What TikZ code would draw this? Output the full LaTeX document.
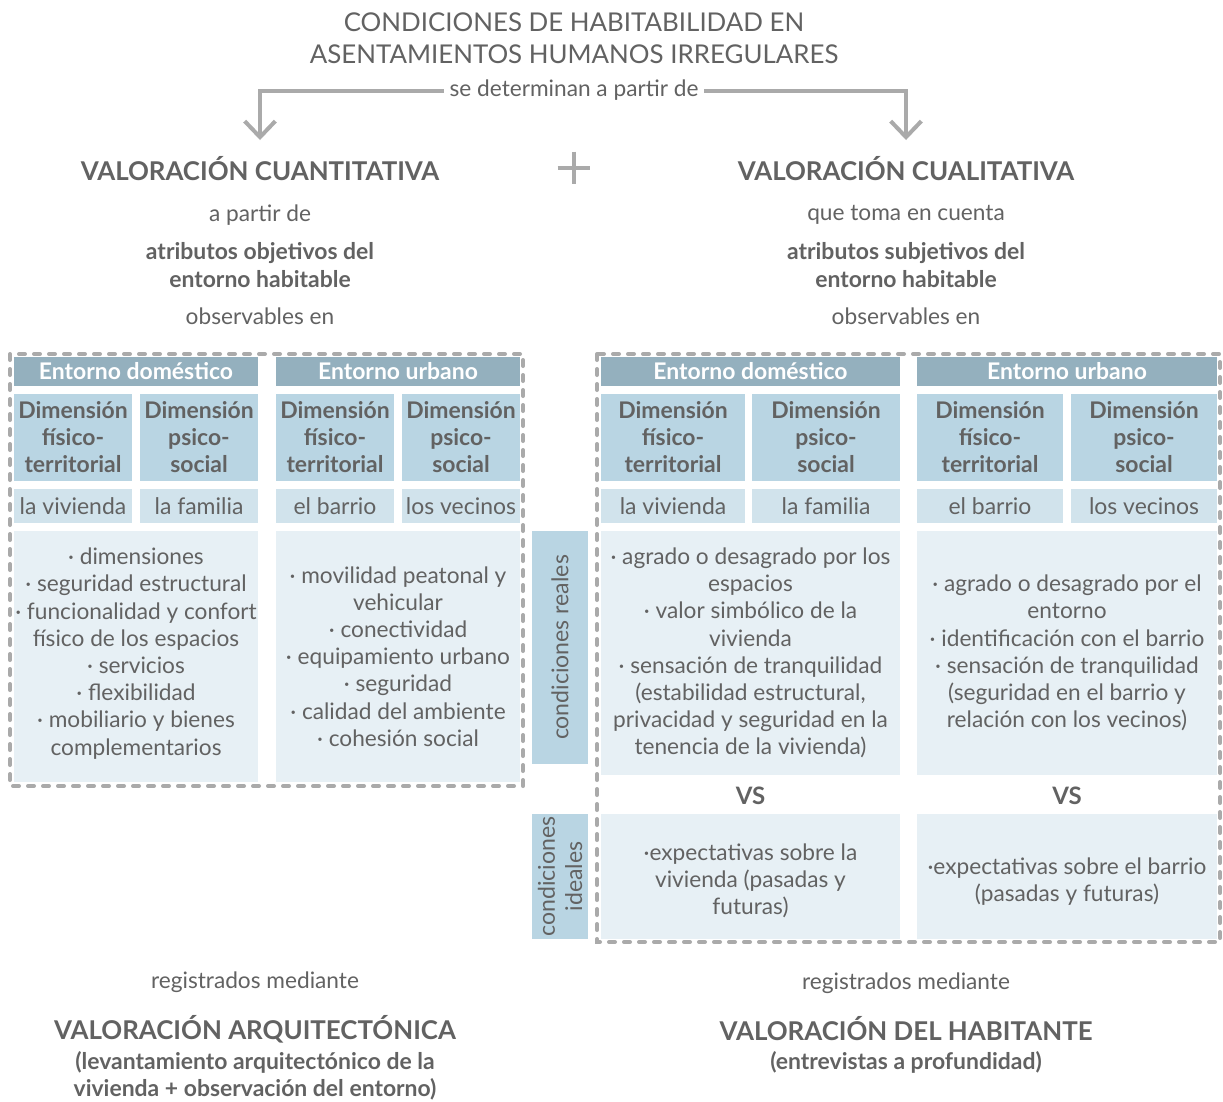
\documentclass[tikz,border=0pt]{standalone}
\usepackage{fontspec}
\setmainfont{Lato}
\usetikzlibrary{arrows.meta}
\definecolor{hdrc}{RGB}{148,176,190}
\definecolor{dimc}{RGB}{185,213,227}
\definecolor{rowc}{RGB}{209,227,236}
\definecolor{cntc}{RGB}{231,240,245}
\definecolor{txtc}{RGB}{98,98,98}
\definecolor{lnc}{RGB}{170,170,170}
\begin{document}
\begin{tikzpicture}[x=0.75pt,y=-0.75pt,
  sz/.style 2 args={minimum width=#1*0.75pt, minimum height=#2*0.75pt},
  cell/.style={inner sep=0pt, align=center, text=txtc},
  hdr/.style={cell, fill=hdrc, text=white, font=\bfseries\fontsize{17.2}{20}\selectfont},
  dimbox/.style={cell, fill=dimc, font=\bfseries\fontsize{17.2}{20.25}\selectfont},
  rowbox/.style={cell, fill=rowc, font=\fontsize{17.2}{20}\selectfont},
  cnt/.style={cell, fill=cntc, font=\fontsize{17}{20.4}\selectfont},
  cnttxt/.style={cell, font=\fontsize{17}{20.4}\selectfont},
  side/.style={cell, fill=dimc, rotate=90, font=\fontsize{17.3}{20.4}\selectfont},
  frame/.style={draw=lnc, line width=3pt, dash pattern=on 4.5pt off 6.75pt, line cap=round},
  arr/.style={draw=lnc, line width=3pt, -{Straight Barb[length=12pt,width=23pt]}},
  lbl/.style={text=txtc, align=center, inner sep=4pt, font=\fontsize{17}{20.25}\selectfont},
  ttl/.style={lbl, font=\bfseries\fontsize{19.4}{22}\selectfont},
  sub/.style={lbl, font=\bfseries\fontsize{17.2}{21}\selectfont},
  big/.style={lbl, font=\fontsize{19.4}{24}\selectfont},
  vs/.style={lbl, font=\bfseries\fontsize{18}{20}\selectfont},
]
\fill[white] (0,0) rectangle (1223,1101);
\useasboundingbox (0,0) rectangle (1223,1101);

% top
\node[big] (title) at (574,38) {CONDICIONES DE HABITABILIDAD EN\\ASENTAMIENTOS HUMANOS IRREGULARES};
\node[lbl] (det) at (574,90.5) {se determinan a partir de};
\coordinate (tipL) at (260,140);
\coordinate (tipR) at (906,140);
\draw[arr] (det.west) -| (tipL);
\draw[arr] (det.east) -| (tipR);

\node[ttl] (cuant) at (260,169) {VALORACIÓN CUANTITATIVA};
\node[ttl] (cual) at (906,169) {VALORACIÓN CUALITATIVA};
\node[inner sep=0pt, minimum size=24pt] (plus) at (574,168) {};
\draw[lnc, line width=3pt] (plus.west) -- (plus.east) (plus.north) -- (plus.south);

\node[lbl] (apd) at (260,215) {a partir de};
\node[sub] (obj) at (260,265) {atributos objetivos del\\entorno habitable};
\node[lbl] (obsL) at (260,316) {observables en};
\node[lbl] (qtc) at (906,215) {que toma en cuenta};
\node[sub] (subj) at (906,265) {atributos subjetivos del\\entorno habitable};
\node[lbl] (obsR) at (906,316) {observables en};

% left frame
\draw[frame] (10,354) rectangle (523,786);
\node[hdr, sz={244}{29}] (hL1) at (136,371.5) {Entorno doméstico};
\node[hdr, sz={244}{29}] (hL2) at (398,371.5) {Entorno urbano};
\node[dimbox, sz={118}{87}] (dL1) at (73,437.5) {Dimensión\\físico-\\territorial};
\node[dimbox, sz={118}{87}] (dL2) at (199,437.5) {Dimensión\\psico-\\social};
\node[dimbox, sz={118}{87}] (dL3) at (335,437.5) {Dimensión\\físico-\\territorial};
\node[dimbox, sz={118}{87}] (dL4) at (461,437.5) {Dimensión\\psico-\\social};
\node[rowbox, sz={118}{34}] (rL1) at (73,506) {la vivienda};
\node[rowbox, sz={118}{34}] (rL2) at (199,506) {la familia};
\node[rowbox, sz={118}{34}] (rL3) at (335,506) {el barrio};
\node[rowbox, sz={118}{34}] (rL4) at (461,506) {los vecinos};
\node[cnt, sz={244}{251}] (cL1) at (136,656.5) {};
\node[cnttxt] (cL1t) at (136,653.5) {· dimensiones\\· seguridad estructural\\· funcionalidad y confort\\físico de los espacios\\· servicios\\· flexibilidad\\· mobiliario y bienes\\complementarios};
\node[cnt, sz={244}{251}] (cL2) at (398,656.5) {· movilidad peatonal y\\vehicular\\· conectividad\\· equipamiento urbano\\· seguridad\\· calidad del ambiente\\· cohesión social};

% side labels
\node[side, sz={233}{56}] (sReal) at (560,647.5) {condiciones reales};
\node[side, sz={125}{56}] (sIdeal) at (560,876.5) {condiciones\\ideales};

% right frame
\draw[frame] (597,354) rectangle (1220,942);
\node[hdr, sz={299}{29}] (hR1) at (750.5,371.5) {Entorno doméstico};
\node[hdr, sz={300}{29}] (hR2) at (1067,371.5) {Entorno urbano};
\node[dimbox, sz={144}{87}] (dR1) at (673,437.5) {Dimensión\\físico-\\territorial};
\node[dimbox, sz={148}{87}] (dR2) at (826,437.5) {Dimensión\\psico-\\social};
\node[dimbox, sz={146}{87}] (dR3) at (990,437.5) {Dimensión\\físico-\\territorial};
\node[dimbox, sz={146}{87}] (dR4) at (1144,437.5) {Dimensión\\psico-\\social};
\node[rowbox, sz={144}{34}] (rR1) at (673,506) {la vivienda};
\node[rowbox, sz={148}{34}] (rR2) at (826,506) {la familia};
\node[rowbox, sz={146}{34}] (rR3) at (990,506) {el barrio};
\node[rowbox, sz={146}{34}] (rR4) at (1144,506) {los vecinos};
\node[cnt, sz={299}{244}] (cR1) at (750.5,653) {· agrado o desagrado por los\\espacios\\· valor simbólico de la\\vivienda\\· sensación de tranquilidad\\(estabilidad estructural,\\privacidad y seguridad en la\\tenencia de la vivienda)};
\node[cnt, sz={300}{244}] (cR2) at (1067,653) {· agrado o desagrado por el\\entorno\\· identificación con el barrio\\· sensación de tranquilidad\\(seguridad en el barrio y\\relación con los vecinos)};
\node[vs] (vs1) at (750.5,796) {VS};
\node[vs] (vs2) at (1067,796) {VS};
\node[cnt, sz={299}{125}] (iR1) at (750.5,876.5) {};
\node[cnttxt] (iR1t) at (750.5,881) {·expectativas sobre la\\vivienda (pasadas y\\futuras)};
\node[cnt, sz={300}{125}] (iR2) at (1067,876.5) {};
\node[cnttxt] (iR2t) at (1067,881.5) {·expectativas sobre el barrio\\(pasadas y futuras)};

% bottom
\node[lbl] (regL) at (255,982) {registrados mediante};
\node[ttl] (arq) at (255,1029) {VALORACIÓN ARQUITECTÓNICA};
\node[sub, font=\bfseries\fontsize{17.2}{20.25}\selectfont] (arqd) at (255,1075.5) {(levantamiento arquitectónico de la\\vivienda + observación del entorno)};
\node[lbl] (regR) at (906,983) {registrados mediante};
\node[ttl] (hab) at (906,1029) {VALORACIÓN DEL HABITANTE};
\node[sub] (habd) at (906,1062.5) {(entrevistas a profundidad)};
\end{tikzpicture}
\end{document}
